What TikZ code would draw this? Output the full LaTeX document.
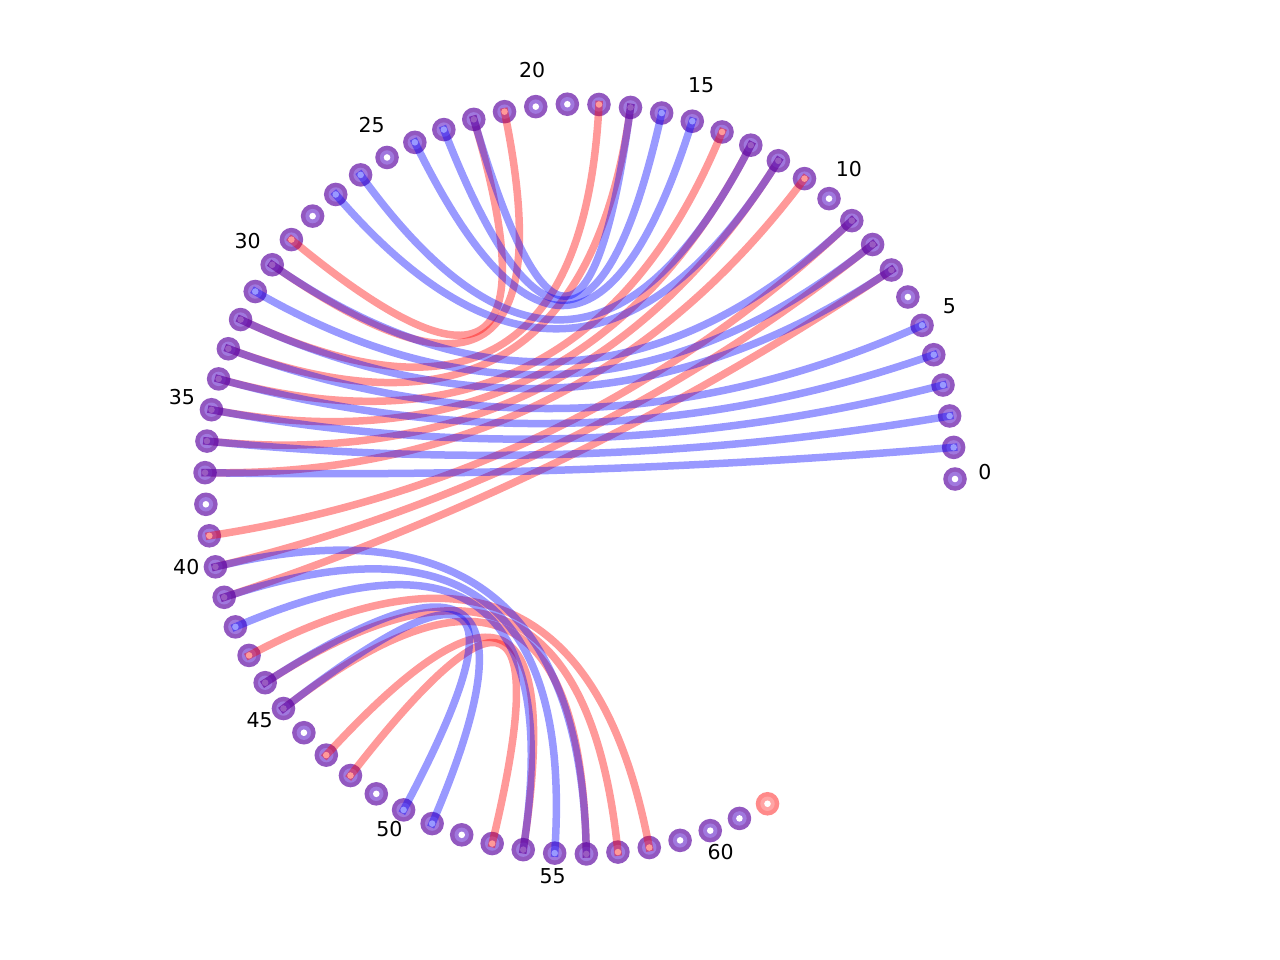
\documentclass[tikz,border=0pt]{standalone}
\usepackage{fontspec}
\setmainfont{DejaVu Sans}
\usetikzlibrary{calc}
\definecolor{mkout}{RGB}{146,88,192}
\definecolor{mkin}{RGB}{160,120,222}
\definecolor{pkout}{RGB}{255,138,138}
\definecolor{pkin}{RGB}{255,165,165}
\definecolor{rline}{RGB}{255,0,0}
\definecolor{bline}{RGB}{0,0,255}
\tikzset{
  redarc/.style={draw=rline, draw opacity=0.4, line width=7.5pt, line cap=rect},
  bluearc/.style={draw=bline, draw opacity=0.4, line width=7.5pt, line cap=rect},
  lab/.style={inner sep=0pt, font=\fontsize{20.5}{24}\selectfont}
}
\begin{document}
\begin{tikzpicture}[x=1pt,y=-1pt]
\useasboundingbox (0,0) rectangle (1280,960);
\coordinate (c) at (580,479);
\foreach \i in {0,...,62}{
  \pgfmathsetmacro\ang{\i*4.8387097}
  \coordinate (p\i) at ({580+375*cos(\ang)},{479-375*sin(\ang)});
}
% markers
\foreach \i in {0,...,61}{
  \fill[mkout] (p\i) circle (11.8pt);
  \fill[mkin] (p\i) circle (7.2pt);
  \fill[white] (p\i) circle (3.3pt);
}
\fill[pkout] (p62) circle (11.8pt);
\fill[pkin] (p62) circle (7.2pt);
\fill[white] (p62) circle (3.3pt);
% labels
\foreach \i in {0,5,...,60}{
  \pgfmathsetmacro\ang{\i*4.8387097}
  \node[lab] (l\i) at ({580+405*cos(\ang)},{472-405*sin(\ang)}) {\i};
}
% red arcs
\foreach \a/\b in {7/41,8/40,9/39,11/37,12/36,13/35,14/34,17/33,18/32,21/30,22/29,43/58,44/57,45/56,47/54,48/53}{
  \draw[redarc] (p\a) .. controls ($(p\a)!0.6667!(c)$) and ($(p\b)!0.6667!(c)$) .. (p\b);
}
% blue arcs
\foreach \a/\b in {1/37,2/36,3/35,4/34,5/33,7/32,8/31,9/30,12/27,13/26,15/24,16/23,17/22,40/56,41/55,42/54,44/51,45/50}{
  \draw[bluearc] (p\a) .. controls ($(p\a)!0.6667!(c)$) and ($(p\b)!0.6667!(c)$) .. (p\b);
}
\end{tikzpicture}
\end{document}
